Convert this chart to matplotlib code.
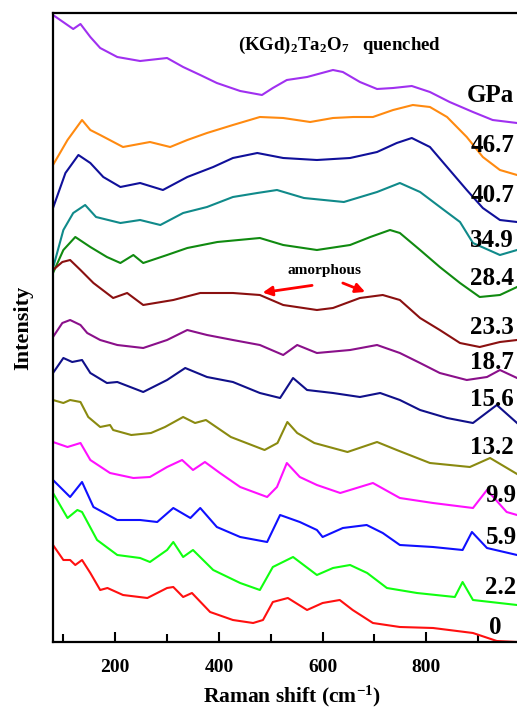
import matplotlib.pyplot as plt

plt.rcParams['font.family'] = ['Liberation Serif', 'DejaVu Serif']
plt.rcParams['font.weight'] = 'bold'
plt.rcParams['mathtext.fontset'] = 'custom'
plt.rcParams['mathtext.rm'] = 'Liberation Serif:bold'
plt.rcParams['mathtext.it'] = 'Liberation Serif:bold'
plt.rcParams['mathtext.bf'] = 'Liberation Serif:bold'

# spectra (stacked, arbitrary intensity units)
x_quenched = [80, 119, 133, 152, 171, 204, 248, 300, 331, 364, 396, 441, 483, 504, 531, 570, 620, 639, 672, 705, 736, 772, 807, 845, 890, 928, 975]
y_quenched = [627, 613, 618, 605, 594, 585, 581, 584, 575, 567, 559, 551, 547, 554, 562, 565, 572, 570, 560, 553, 554, 556, 550, 540, 530, 522, 519]

x_467 = [80, 108, 136, 152, 171, 215, 267, 306, 339, 377, 427, 479, 524, 576, 620, 659, 697, 736, 774, 807, 840, 878, 909, 942, 975]
y_467 = [477, 502, 522, 512, 507, 495, 500, 495, 502, 509, 517, 525, 524, 520, 524, 525, 525, 532, 537, 535, 525, 505, 485, 472, 467]

x_407 = [80, 104, 129, 152, 177, 210, 248, 292, 339, 389, 427, 474, 524, 589, 653, 705, 743, 772, 807, 840, 878, 909, 942, 975]
y_407 = [434, 469, 487, 479, 465, 455, 459, 452, 465, 475, 484, 489, 484, 482, 484, 490, 499, 504, 495, 475, 452, 434, 422, 420]

x_349 = [80, 100, 119, 142, 163, 210, 248, 287, 331, 377, 427, 474, 512, 564, 641, 705, 749, 788, 834, 865, 890, 942, 975]
y_349 = [374, 412, 429, 437, 425, 419, 422, 417, 429, 435, 445, 449, 452, 444, 440, 450, 459, 450, 432, 420, 399, 387, 392]

x_284 = [80, 100, 123, 152, 184, 210, 235, 254, 300, 339, 397, 479, 524, 589, 653, 692, 730, 749, 788, 826, 865, 903, 942, 975]
y_284 = [369, 392, 405, 395, 385, 379, 387, 379, 387, 394, 400, 404, 397, 392, 397, 405, 412, 409, 392, 375, 359, 345, 347, 355]

x_233 = [80, 98, 113, 133, 158, 196, 223, 254, 312, 364, 427, 479, 524, 589, 620, 672, 716, 749, 788, 826, 865, 903, 942, 975]
y_233 = [372, 380, 382, 372, 359, 344, 349, 337, 342, 349, 349, 347, 337, 332, 334, 344, 347, 342, 324, 312, 299, 295, 300, 302]

x_187 = [80, 98, 113, 133, 146, 171, 204, 254, 300, 339, 377, 427, 479, 524, 551, 589, 653, 705, 749, 788, 826, 878, 917, 942, 975]
y_187 = [305, 319, 322, 317, 309, 302, 297, 294, 302, 312, 307, 302, 297, 287, 297, 289, 292, 297, 289, 279, 269, 262, 265, 272, 264]

x_156 = [80, 100, 117, 136, 152, 184, 204, 254, 300, 335, 377, 427, 479, 518, 543, 570, 620, 672, 711, 749, 788, 840, 890, 936, 975]
y_156 = [269, 284, 280, 282, 269, 259, 260, 250, 262, 274, 265, 260, 249, 244, 264, 252, 249, 245, 249, 242, 232, 224, 219, 237, 219]

x_132 = [80, 100, 113, 133, 148, 171, 190, 196, 231, 269, 296, 331, 354, 375, 423, 488, 513, 532, 551, 584, 648, 705, 743, 807, 884, 923, 975]
y_132 = [242, 239, 242, 240, 225, 215, 217, 212, 207, 209, 215, 225, 219, 222, 205, 192, 199, 220, 209, 199, 190, 200, 192, 179, 175, 184, 168]

x_99 = [80, 108, 133, 152, 190, 235, 267, 300, 329, 350, 373, 402, 441, 493, 512, 531, 556, 589, 634, 697, 749, 813, 890, 917, 955, 975]
y_99 = [200, 195, 199, 182, 169, 164, 165, 175, 182, 172, 180, 169, 155, 145, 155, 179, 165, 157, 149, 159, 144, 139, 134, 152, 130, 127]

x_59 = [80, 113, 136, 158, 204, 248, 281, 312, 345, 364, 396, 441, 493, 518, 556, 589, 600, 639, 685, 716, 749, 813, 870, 888, 917, 975]
y_59 = [162, 145, 160, 135, 122, 122, 120, 134, 124, 134, 115, 105, 100, 127, 120, 112, 105, 114, 117, 109, 97, 95, 92, 110, 94, 87]

x_22 = [80, 108, 127, 136, 165, 204, 248, 267, 300, 312, 331, 350, 389, 441, 479, 504, 543, 589, 620, 653, 686, 724, 782, 855, 870, 890, 975]
y_22 = [149, 124, 132, 130, 102, 87, 84, 80, 92, 100, 85, 92, 72, 59, 52, 75, 85, 67, 74, 77, 69, 54, 49, 45, 60, 42, 37]

x_0 = [80, 100, 113, 123, 136, 152, 171, 185, 215, 262, 300, 312, 331, 348, 383, 427, 466, 485, 504, 533, 570, 600, 633, 658, 697, 749, 813, 890, 936, 975]
y_0 = [97, 82, 82, 77, 82, 69, 52, 54, 47, 44, 54, 55, 45, 49, 30, 22, 19, 22, 40, 44, 32, 39, 42, 32, 19, 15, 14, 9, 1, 0]

series = [
    (x_quenched, y_quenched, '#A030F0'),
    (x_467, y_467, '#FF8A10'),
    (x_407, y_407, '#10109A'),
    (x_349, y_349, '#108A8A'),
    (x_284, y_284, '#108A10'),
    (x_233, y_233, '#8A1010'),
    (x_187, y_187, '#8A108A'),
    (x_156, y_156, '#10108A'),
    (x_132, y_132, '#8A8A10'),
    (x_99, y_99, '#FF10FF'),
    (x_59, y_59, '#1010FF'),
    (x_22, y_22, '#10FF10'),
    (x_0, y_0, '#FF1010'),
]

pressures = ['46.7', '40.7', '34.9', '28.4', '23.3', '18.7', '15.6', '13.2', '9.9', '5.9', '2.2', '0']
label_x = [886, 886, 884, 884, 884, 884, 884, 884, 914, 914, 914, 920]
label_y = [497, 447, 402, 364, 315, 280, 242, 194, 147, 104, 54, 14]

fig = plt.figure(figsize=(5.17, 7.09), dpi=100)
ax = fig.add_axes([53 / 517, 67 / 709, 477 / 517, 629 / 709])

for xs, ys, c in series:
    ax.plot(xs, ys, color=c, lw=1.5)

for p, lx, ly in zip(pressures, label_x, label_y):
    ax.text(lx, ly, p, fontsize=18, fontweight='bold', ha='left', va='center')
ax.text(878, 547, 'GPa', fontsize=18, fontweight='bold', ha='left', va='center')

ax.text(633, 597, '(KGd)$_2$Ta$_2$O$_7$   quenched', fontsize=13.5,
        fontweight='bold', ha='center', va='center')

ax.text(604, 372, 'amorphous', fontsize=11, fontweight='bold', ha='center', va='center')
ax.annotate('', xy=(479, 349), xytext=(585, 357),
            arrowprops=dict(arrowstyle='-|>', color='red', lw=2, mutation_scale=14))
ax.annotate('', xy=(687, 349), xytext=(634, 360),
            arrowprops=dict(arrowstyle='-|>', color='red', lw=2, mutation_scale=14))

ax.set_xlim(80, 1000)
ax.set_ylim(0, 629)
ax.set_yticks([])
ax.set_xticks([200, 400, 600, 800])
ax.set_xticks([100, 300, 500, 700, 900], minor=True)
ax.tick_params(axis='x', which='major', direction='in', length=7, width=1.5, labelsize=14, pad=12)
ax.tick_params(axis='x', which='minor', direction='in', length=6, width=1.5)
for lab in ax.get_xticklabels():
    lab.set_fontweight('bold')
for s in ax.spines.values():
    s.set_linewidth(1.6)

ax.set_xlabel('Raman shift (cm$^{-1}$)', fontsize=15.5, fontweight='bold', labelpad=6)
ax.set_ylabel('Intensity', fontsize=16, fontweight='bold', labelpad=14)

fig.savefig('out.png', dpi=100)
